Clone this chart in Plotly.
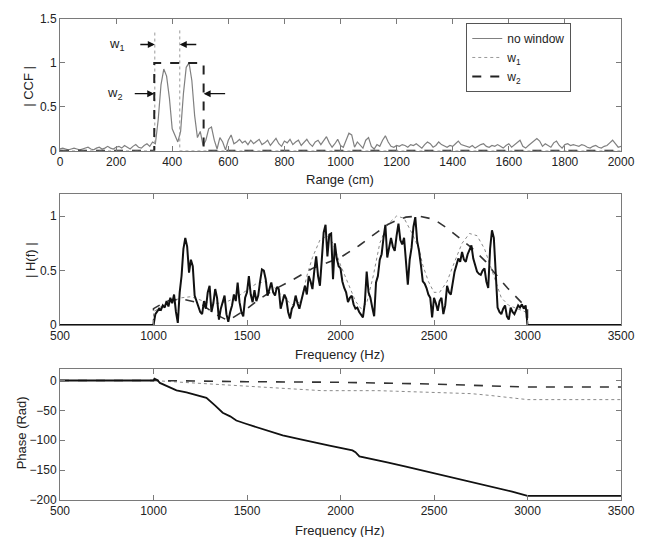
import plotly.graph_objects as go

# ---------------- Top panel: |CCF| vs range (cm) ----------------
ccf_range = list(range(0, 2001, 10))
ccf_nowin = [
    0.02, 0.03, 0.02, 0.01, 0.02, 0.03, 0.02, 0.01, 0.02, 0.03,
    0.04, 0.02, 0.01, 0.03, 0.04, 0.02, 0.03, 0.05, 0.03, 0.02,
    0.04, 0.05, 0.03, 0.06, 0.04, 0.02, 0.05, 0.07, 0.04, 0.03,
    0.06, 0.08, 0.05, 0.10, 0.08, 0.35, 0.75, 0.93, 0.85, 0.60,
    0.25, 0.18, 0.10, 0.22, 0.65, 0.95, 1.00, 0.80, 0.40, 0.15,
    0.22, 0.06, 0.12, 0.25, 0.27, 0.12, 0.02, 0.15, 0.10, 0.01,
    0.12, 0.18, 0.08, 0.10, 0.13, 0.09, 0.11, 0.07, 0.12, 0.08,
    0.10, 0.13, 0.07, 0.09, 0.12, 0.06, 0.10, 0.14, 0.08, 0.05,
    0.11, 0.09, 0.13, 0.07, 0.10, 0.12, 0.06, 0.09, 0.13, 0.08,
    0.05, 0.10, 0.12, 0.07, 0.12, 0.16, 0.09, 0.04, 0.08, 0.13,
    0.06, 0.04, 0.12, 0.20, 0.18, 0.04, 0.10, 0.06, 0.03, 0.12,
    0.15, 0.05, 0.02, 0.07, 0.05, 0.12, 0.17, 0.10, 0.05, 0.04,
    0.06, 0.05, 0.07, 0.06, 0.04, 0.07, 0.06, 0.08, 0.05, 0.03,
    0.07, 0.10, 0.08, 0.04, 0.06, 0.10, 0.07, 0.05, 0.04, 0.06,
    0.05, 0.08, 0.11, 0.07, 0.06, 0.05, 0.04, 0.06, 0.03, 0.05,
    0.07, 0.08, 0.05, 0.04, 0.06, 0.05, 0.07, 0.05, 0.03, 0.06,
    0.08, 0.04, 0.07, 0.10, 0.12, 0.05, 0.03, 0.06, 0.09, 0.12,
    0.14, 0.11, 0.05, 0.08, 0.06, 0.04, 0.09, 0.11, 0.06, 0.03,
    0.07, 0.08, 0.06, 0.07, 0.06, 0.05, 0.07, 0.06, 0.04, 0.03,
    0.05, 0.06, 0.04, 0.03, 0.05, 0.06, 0.09, 0.12, 0.08, 0.04,
    0.05,
]
w1_x = [0, 338, 338, None, 427, 427, 2000]
w1_y = [0, 0, 1.37, None, 1.37, 0, 0]
w2_x = [0, 336, 336, 512, 512, 2000]
w2_y = [0, 0, 1.0, 1.0, 0, 0]

# ---------------- Middle panel: |H(f)| ----------------
h_freq = list(range(1000, 3001, 10))
h_nowin = [
    0.00, 0.10, 0.12, 0.15, 0.14, 0.18, 0.16, 0.22, 0.17, 0.25,
    0.20, 0.28, 0.12, 0.02, 0.30, 0.45, 0.70, 0.80, 0.72, 0.48,
    0.60, 0.54, 0.27, 0.22, 0.18, 0.12, 0.10, 0.22, 0.15, 0.30,
    0.36, 0.12, 0.20, 0.33, 0.25, 0.05, 0.15, 0.20, 0.27, 0.10,
    0.03, 0.12, 0.18, 0.28, 0.22, 0.39, 0.21, 0.12, 0.08, 0.25,
    0.30, 0.45, 0.28, 0.21, 0.32, 0.22, 0.27, 0.40, 0.51, 0.50,
    0.42, 0.27, 0.33, 0.39, 0.30, 0.27, 0.35, 0.33, 0.15, 0.22,
    0.28, 0.24, 0.12, 0.06, 0.15, 0.18, 0.27, 0.20, 0.15, 0.22,
    0.30, 0.36, 0.28, 0.45, 0.40, 0.33, 0.50, 0.63, 0.45, 0.36,
    0.60, 0.85, 0.92, 0.63, 0.83, 0.84, 0.42, 0.75, 0.61, 0.54,
    0.52, 0.40, 0.34, 0.30, 0.21, 0.25, 0.27, 0.19, 0.15, 0.16,
    0.12, 0.10, 0.07, 0.20, 0.49, 0.30, 0.25, 0.16, 0.08, 0.39,
    0.45, 0.60, 0.65, 0.80, 0.92, 0.62, 0.70, 0.80, 0.72, 0.68,
    0.82, 0.93, 0.78, 0.74, 0.80, 0.55, 0.37, 0.60, 0.71, 0.90,
    0.99, 0.77, 0.68, 0.55, 0.40, 0.38, 0.34, 0.28, 0.25, 0.07,
    0.25, 0.20, 0.13, 0.22, 0.25, 0.10, 0.18, 0.36, 0.30, 0.28,
    0.40, 0.49, 0.55, 0.61, 0.58, 0.67, 0.60, 0.58, 0.65, 0.70,
    0.73, 0.61, 0.55, 0.49, 0.47, 0.46, 0.50, 0.52, 0.40, 0.34,
    0.70, 0.87, 0.80, 0.45, 0.16, 0.12, 0.10, 0.15, 0.18, 0.08,
    0.05, 0.16, 0.12, 0.10, 0.15, 0.18, 0.16, 0.19, 0.15, 0.18,
    0.00,
]
h_w1_freq = [500, 1000, 1000, 1050, 1100, 1150, 1200, 1250, 1300, 1350, 1400, 1450,
             1500, 1550, 1600, 1650, 1700, 1750, 1790, 1820, 1850, 1890, 1930,
             1960, 2000, 2040, 2080, 2110, 2140, 2175, 2210, 2250, 2300, 2340,
             2380, 2420, 2440, 2470, 2500, 2530, 2570, 2610, 2650, 2690, 2730,
             2770, 2800, 2830, 2860, 2900, 2950, 2990, 3000, 3500]
h_w1 = [0, 0, 0.12, 0.18, 0.22, 0.25, 0.26, 0.23, 0.20, 0.20, 0.22, 0.26,
        0.32, 0.38, 0.40, 0.34, 0.24, 0.18, 0.22, 0.45, 0.62, 0.78, 0.82,
        0.75, 0.55, 0.38, 0.22, 0.15, 0.20, 0.45, 0.75, 0.92, 1.00, 0.98,
        0.85, 0.70, 0.55, 0.40, 0.30, 0.30, 0.40, 0.58, 0.75, 0.84, 0.82,
        0.70, 0.55, 0.38, 0.25, 0.18, 0.15, 0.12, 0.0, 0.0]
h_w2_freq = [500, 1000, 1000, 1070, 1150, 1250, 1330, 1400, 1500, 1568, 1650,
             1750, 1850, 1950, 2000, 2100, 2200, 2250, 2300, 2350, 2420, 2500,
             2570, 2635, 2700, 2778, 2813, 2893, 2973, 3000, 3000, 3500]
h_w2 = [0, 0, 0.15, 0.22, 0.24, 0.20, 0.10, 0.04, 0.15, 0.24, 0.33,
        0.42, 0.52, 0.59, 0.62, 0.73, 0.86, 0.92, 0.96, 0.99, 1.00, 0.97,
        0.89, 0.80, 0.71, 0.58, 0.50, 0.34, 0.20, 0.15, 0.0, 0.0]

# ---------------- Bottom panel: phase (rad) ----------------
ph_freq = [500, 1000, 1005, 1020, 1034, 1080, 1123, 1176, 1230, 1283, 1330,
           1370, 1410, 1443, 1490, 1531, 1600, 1691, 1781, 1850, 1941, 2064,
           2080, 2101, 2150, 2250, 2350, 2475, 2600, 2700, 2800, 2918, 3000, 3500]
ph_nowin = [0, 0, 3, 1, -4, -10, -16.6, -20, -24, -29, -42,
            -54, -60, -67, -72, -76, -82, -92, -98, -103, -109, -117,
            -120, -127, -130, -137, -144, -153, -162, -170, -177, -186, -193, -193]
ph_w1_freq = [500, 1000, 1100, 1200, 1300, 1400, 1500, 1600, 1700, 1800, 1900,
              2000, 2100, 2200, 2300, 2400, 2500, 2600, 2700, 2800, 2900, 3000, 3500]
ph_w1 = [0, 0, -2, -4, -6, -8, -10, -12, -14, -16, -17,
         -17, -16.5, -17, -18, -19, -20, -21, -22, -25, -28, -32, -32]
ph_w2_freq = [500, 1000, 1500, 2000, 2500, 3000, 3500]
ph_w2 = [0, 0, -2, -3, -6, -11, -11]

# ---------------- Styling ----------------
FONT = "Liberation Sans, Arial, sans-serif"
TXT = "#222222"
AX = "#7a7a7a"

fig = go.Figure()

# top
fig.add_trace(go.Scatter(x=ccf_range, y=ccf_nowin, mode="lines", name="no window",
                         line=dict(color="#808080", width=1.2), xaxis="x", yaxis="y"))
fig.add_trace(go.Scatter(x=w1_x, y=w1_y, mode="lines", name="w<sub>1</sub>",
                         line=dict(color="#9a9a9a", width=1, dash="dot"), xaxis="x", yaxis="y"))
fig.add_trace(go.Scatter(x=w2_x, y=w2_y, mode="lines", name="w<sub>2</sub>",
                         line=dict(color="#222222", width=2, dash="dash"), xaxis="x", yaxis="y"))

# middle
fig.add_trace(go.Scatter(x=h_w1_freq, y=h_w1, mode="lines", showlegend=False,
                         line=dict(color="#8a8a8a", width=1, dash="dot"), xaxis="x2", yaxis="y2"))
fig.add_trace(go.Scatter(x=h_w2_freq, y=h_w2, mode="lines", showlegend=False,
                         line=dict(color="#333333", width=1.6, dash="dash"), xaxis="x2", yaxis="y2"))
fig.add_trace(go.Scatter(x=[500] + h_freq + [3500], y=[0] + h_nowin + [0], mode="lines",
                         showlegend=False, line=dict(color="#111111", width=2),
                         xaxis="x2", yaxis="y2"))

# bottom
fig.add_trace(go.Scatter(x=ph_w1_freq, y=ph_w1, mode="lines", showlegend=False,
                         line=dict(color="#8a8a8a", width=1, dash="dot"), xaxis="x3", yaxis="y3"))
fig.add_trace(go.Scatter(x=ph_w2_freq, y=ph_w2, mode="lines", showlegend=False,
                         line=dict(color="#333333", width=1.6, dash="dash"), xaxis="x3", yaxis="y3"))
fig.add_trace(go.Scatter(x=ph_freq, y=ph_nowin, mode="lines", showlegend=False,
                         line=dict(color="#111111", width=1.8), xaxis="x3", yaxis="y3"))


def axis_style(**kw):
    d = dict(showline=True, linecolor=AX, linewidth=1, mirror="ticks", ticks="inside",
             ticklen=5, tickcolor=AX, showgrid=False, zeroline=False,
             tickfont=dict(family=FONT, size=12, color=TXT))
    d.update(kw)
    return d


H = 483.0
def py(p):
    return (500 - p) / H

fig.update_layout(
    width=647, height=537,
    margin=dict(l=60, r=25, t=17, b=37),
    paper_bgcolor="white", plot_bgcolor="white",
    font=dict(family=FONT, size=12, color=TXT),
    xaxis=axis_style(domain=[0, 1], anchor="y", range=[0, 2000], tickvals=list(range(0, 2001, 200))),
    yaxis=axis_style(domain=[py(149.3), 1.0], anchor="x", range=[0, 1.5],
                     tickvals=[0, 0.5, 1, 1.5], ticktext=["0", "0.5", "1", "1.5"]),
    xaxis2=axis_style(domain=[0, 1], anchor="y2", range=[500, 3500], tickvals=list(range(500, 3501, 500))),
    yaxis2=axis_style(domain=[py(324.3), py(193)], anchor="x2", range=[0, 1.2],
                      tickvals=[0, 0.5, 1], ticktext=["0", "0.5", "1"]),
    xaxis3=axis_style(domain=[0, 1], anchor="y3", range=[500, 3500], tickvals=list(range(500, 3501, 500))),
    yaxis3=axis_style(domain=[0, py(368)], anchor="x3", range=[-200, 20],
                      tickvals=[-200, -150, -100, -50, 0]),
    showlegend=True,
    legend=dict(x=(467 - 60) / 562, y=py(21), xanchor="left", yanchor="top",
                bordercolor="#555555", borderwidth=1, bgcolor="white",
                font=dict(family=FONT, size=12, color=TXT), tracegroupgap=0,
                itemwidth=30),
)

ann = []
def title_ann(text, x, y, angle=0):
    return dict(text=text, xref="paper", yref="paper", x=x, y=y, xanchor="center",
                yanchor="middle", showarrow=False, textangle=angle,
                font=dict(family=FONT, size=13, color=TXT))

# axis titles
ann.append(title_ann("Range (cm)", 0.499, py(178)))
ann.append(title_ann("Frequency (Hz)", 0.499, py(354)))
ann.append(title_ann("Frequency (Hz)", 0.499, py(531)))
ann.append(title_ann("| CCF |", (29 - 60) / 562, py(85), -90))
ann.append(title_ann("| H(f) |", (31 - 60) / 562, py(259), -90))
ann.append(title_ann("Phase (Rad)", (21 - 60) / 562, py(433), -90))
# w1 / w2 labels and arrows
ann.append(dict(text="w<sub>1</sub>", xref="x", yref="y", x=203, y=1.21, showarrow=False,
                xanchor="center", yanchor="middle", font=dict(size=13)))
ann.append(dict(text="w<sub>2</sub>", xref="x", yref="y", x=196, y=0.65, showarrow=False,
                xanchor="center", yanchor="middle", font=dict(size=13)))
for xt, yt, axp in [(338, 1.21, -16), (427, 1.21, 18), (336, 0.65, -21), (512, 0.65, 23)]:
    ann.append(dict(text="", xref="x", yref="y", x=xt, y=yt, ax=axp, ay=0,
                    showarrow=True, arrowhead=2, arrowsize=1, arrowwidth=1.4,
                    arrowcolor="#111111"))
fig.update_layout(annotations=ann)

fig.write_html("out.html")
